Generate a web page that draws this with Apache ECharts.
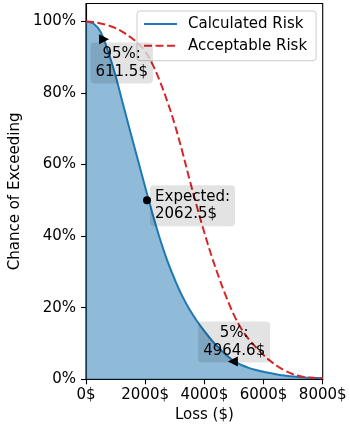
<!DOCTYPE html>
<html>
<head>
<meta charset="utf-8">
<script src="https://cdn.jsdelivr.net/npm/echarts@6/dist/echarts.min.js"></script>
<style>
html,body{margin:0;padding:0;background:#fff;}
#chart{width:350px;height:427px;}
</style>
</head>
<body>
<div id="chart"></div>
<script>
// Loss values ($) along the x axis
var lossX = [0,250,500,750,1000,1250,1500,1750,2000,2250,2500,2750,3000,3250,3500,3750,4000,4250,4500,4750,5000,5250,5500,5750,6000,6250,6500,6750,7000,7250,7500,7750,8000];
// Chance of exceeding (%) – calculated risk
var calculatedRisk = [100,99.4,97,91.5,84.8,76.9,69.1,61.4,53.7,46.2,39.2,33.1,27.9,23.3,19.5,16.3,13.5,10.9,8.7,6.7,5.1,4,3.2,2.6,2.1,1.7,1.3,1,0.75,0.58,0.46,0.37,0.3];
// Chance of exceeding (%) – acceptable risk
var acceptableRisk = [100,99.8,99.4,98.9,98.1,97,95.6,93.9,91.6,88,83.2,77.6,71.2,63.8,55.8,48.2,41,34.3,28.3,22.8,18,14.1,11.2,8.9,6.8,5,3.5,2.3,1.4,0.85,0.55,0.38,0.3];
// Annotated points
var annoLoss = [611.5, 2062.5, 4964.6];
var annoChance = [95, 50, 5];
var annoText = ['95%:\n611.5$', 'Expected:\n2062.5$', '5%:\n4964.6$'];
// Ticks
var xTicks = [0, 2000, 4000, 6000, 8000];
var yTicks = [0, 20, 40, 60, 80, 100];
var seriesNames = ['Calculated Risk', 'Acceptable Risk'];

var FONT = 'DejaVu Sans';
var chart = echarts.init(document.getElementById('chart'), null, {renderer: 'canvas'});

function pairs(xs, ys) { return xs.map(function (x, i) { return [x, ys[i]]; }); }

var annoStyles = [
  {symbol: 'triangle', rotate: -90, size: [10, 10], align: 'center', offset: [17.6, 23.6]},
  {symbol: 'circle', rotate: 0, size: 8, align: 'left', offset: [3, 5.5]},
  {symbol: 'triangle', rotate: 90, size: [10, 10], align: 'center', offset: [1.3, -19.5]}
];
var annoData = annoLoss.map(function (x, i) {
  var s = annoStyles[i];
  return {
    value: [x, annoChance[i]],
    symbol: s.symbol,
    symbolRotate: s.rotate,
    symbolSize: s.size,
    label: {
      show: true,
      position: 'inside',
      formatter: annoText[i],
      offset: s.offset,
      align: s.align,
      verticalAlign: 'middle',
      color: '#000',
      fontFamily: FONT,
      fontSize: 15,
      lineHeight: 17.5,
      backgroundColor: 'rgba(0,0,0,0.11)',
      borderRadius: 4,
      padding: [3, 5, 3, 5]
    }
  };
});

var option = {
  animation: false,
  backgroundColor: '#fff',
  grid: {left: 86, right: 27.3, top: 3.5, bottom: 47.7, show: true, borderColor: '#000', borderWidth: 1.1, outerBoundsMode: 'none'},
  legend: {
    data: seriesNames,
    orient: 'vertical',
    left: 137, top: 11,
    itemWidth: 33, itemHeight: 14, itemGap: 3.7,
    itemStyle: {opacity: 0},
    backgroundColor: 'rgba(255,255,255,0.8)',
    borderColor: '#cccccc', borderWidth: 1, borderRadius: 3,
    padding: [4, 9, 6, 6],
    textStyle: {fontFamily: FONT, fontSize: 15, color: '#000', lineHeight: 18, padding: [0, 0, 0, 6]}
  },
  xAxis: {
    type: 'value', min: 0, max: 8000, interval: 2000,
    name: 'Loss ($)', nameLocation: 'middle', nameGap: 27,
    nameTextStyle: {fontFamily: FONT, fontSize: 15, color: '#000'},
    axisLine: {show: true, onZero: false, lineStyle: {color: '#000', width: 1.1}},
    axisTick: {show: true, length: 5, lineStyle: {color: '#000', width: 1.1}, customValues: xTicks},
    axisLabel: {fontFamily: FONT, fontSize: 15, color: '#000', margin: 8, formatter: function (v) { return v + '$'; }, customValues: xTicks},
    splitLine: {show: false}
  },
  yAxis: {
    type: 'value', min: 0, max: 105, interval: 20,
    name: 'Chance of Exceeding', nameLocation: 'middle', nameGap: 61,
    nameTextStyle: {fontFamily: FONT, fontSize: 15, color: '#000'},
    axisLine: {show: true, onZero: false, lineStyle: {color: '#000', width: 1.1}},
    axisTick: {show: true, length: 5, lineStyle: {color: '#000', width: 1.1}, customValues: yTicks},
    axisLabel: {fontFamily: FONT, fontSize: 15, color: '#000', margin: 10, formatter: function (v) { return v + '%'; }, customValues: yTicks},
    splitLine: {show: false}
  },
  series: [
    {
      name: seriesNames[0], type: 'line', data: pairs(lossX, calculatedRisk),
      symbol: 'none', smooth: 0.4,
      lineStyle: {color: '#1f77b4', width: 2},
      itemStyle: {color: '#1f77b4'},
      areaStyle: {color: '#1f77b4', opacity: 0.5},
      z: 2
    },
    {
      name: seriesNames[1], type: 'line', data: pairs(lossX, acceptableRisk),
      symbol: 'none', smooth: 0.4,
      lineStyle: {color: '#d62728', width: 2, type: [8, 3.5]},
      itemStyle: {color: '#d62728'},
      z: 3
    },
    {
      name: 'annotations', type: 'scatter', data: annoData,
      itemStyle: {color: '#000', opacity: 1},
      z: 5
    }
  ]
};
chart.setOption(option);
</script>
</body>
</html>
